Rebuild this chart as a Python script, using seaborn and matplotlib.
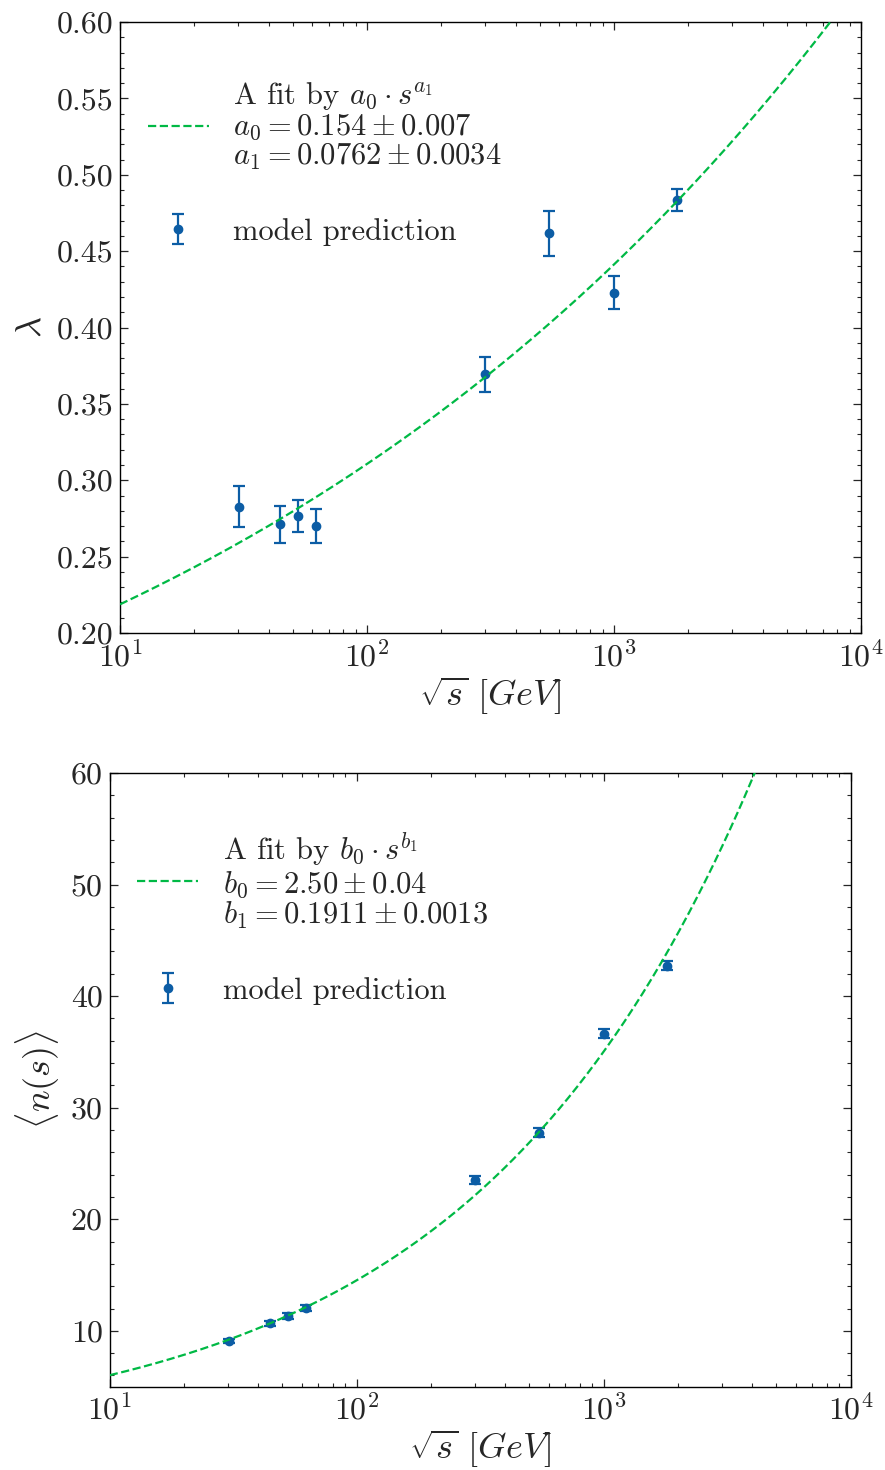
import numpy as np
import pandas as pd
import matplotlib
matplotlib.use("Agg")
import matplotlib.pyplot as plt
from matplotlib.ticker import FixedLocator, AutoMinorLocator, FormatStrFormatter, LogLocator, LogFormatterMathtext, NullFormatter
import seaborn as sns

# Collision energies (GeV)
sqrt_s = [30.4, 44.5, 52.6, 62.2, 300.0, 546.0, 1000.0, 1800.0]

# lambda parameter from the model
lam = [0.2827, 0.2712, 0.2766, 0.2700, 0.3694, 0.4617, 0.4228, 0.4835]
lam_err = [0.0134, 0.0120, 0.0104, 0.0110, 0.0113, 0.0149, 0.0110, 0.0072]

# mean multiplicity from the model
mult = [9.10, 10.66, 11.32, 12.04, 23.52, 27.76, 36.61, 42.73]
mult_err = [0.20, 0.20, 0.25, 0.25, 0.35, 0.40, 0.40, 0.40]

# power-law fit parameters
a0, a0_err, a1, a1_err = 0.154, 0.007, 0.0762, 0.0034
b0, b0_err, b1, b1_err = 2.50, 0.04, 0.1911, 0.0013

BLUE = "#0C5DA5"
GREEN = "#00B945"

sns.set_theme(style="ticks")
plt.rcParams.update({
    "font.family": ["cmr10", "DejaVu Serif"],
    "mathtext.fontset": "cm",
    "axes.formatter.use_mathtext": True,
    "axes.unicode_minus": False,
    "axes.linewidth": 1.0,
    "axes.edgecolor": "black",
    "xtick.direction": "in",
    "ytick.direction": "in",
    "xtick.top": True,
    "ytick.right": True,
    "xtick.major.size": 6,
    "ytick.major.size": 6,
    "xtick.minor.size": 3,
    "ytick.minor.size": 3,
    "xtick.major.width": 0.9,
    "ytick.major.width": 0.9,
    "xtick.minor.width": 0.8,
    "ytick.minor.width": 0.8,
    "xtick.minor.visible": True,
    "ytick.minor.visible": True,
    "xtick.labelsize": 23,
    "ytick.labelsize": 23,
    "xtick.major.pad": 5,
    "ytick.major.pad": 5,
    "axes.labelsize": 26,
})

fig = plt.figure(figsize=(8.85, 14.7), dpi=100)
ax1 = fig.add_axes([0.1356, 0.5694, 0.8373, 0.4156])
ax2 = fig.add_axes([0.1240, 0.0567, 0.8373, 0.4175])

xs = np.logspace(1, 4, 400)
fit_top = pd.DataFrame({"x": xs, "y": a0 * (xs ** 2) ** a1})
fit_bot = pd.DataFrame({"x": xs, "y": b0 * (xs ** 2) ** b1})

top_label = ("A fit by $a_0 \\cdot s^{a_1}$\n"
             f"$a_0 = {a0:.3f} \\pm {a0_err:.3f}$\n"
             f"$a_1 = {a1:.4f} \\pm {a1_err:.4f}$")
bot_label = ("A fit by $b_0 \\cdot s^{b_1}$\n"
             f"$b_0 = {b0:.2f} \\pm {b0_err:.2f}$\n"
             f"$b_1 = {b1:.4f} \\pm {b1_err:.4f}$")


def draw(ax, fit, label, y, yerr):
    sns.lineplot(data=fit, x="x", y="y", ax=ax, color=GREEN, lw=1.6,
                 linestyle="--", label=label, zorder=3)
    ax.errorbar(sqrt_s, y, yerr=yerr, fmt="o", color=BLUE, ms=6,
                elinewidth=1.6, capsize=4, capthick=1.6,
                label="model prediction", zorder=2)
    ax.set_xscale("log")
    ax.set_xlim(10, 1e4)
    ax.xaxis.set_major_locator(LogLocator(base=10, numticks=10))
    ax.xaxis.set_major_formatter(LogFormatterMathtext())
    ax.xaxis.set_minor_locator(LogLocator(base=10, subs=np.arange(2, 10), numticks=20))
    ax.xaxis.set_minor_formatter(NullFormatter())
    ax.set_xlabel(r"$\sqrt{s}\ [GeV]$", labelpad=2)
    leg = ax.legend(loc="upper left", bbox_to_anchor=(0.0, 0.95), frameon=False,
                    fontsize=22, handlelength=2.0, handletextpad=0.8,
                    labelspacing=1.5, borderaxespad=0.5)
    for t in leg.get_texts():
        t.set_linespacing(1.0)


draw(ax1, fit_top, top_label, lam, lam_err)
ax1.set_ylim(0.20, 0.60)
ax1.yaxis.set_major_locator(FixedLocator(np.arange(0.20, 0.601, 0.05)))
ax1.yaxis.set_major_formatter(FormatStrFormatter("%.2f"))
ax1.yaxis.set_minor_locator(AutoMinorLocator(5))
ax1.set_ylabel(r"$\lambda$", labelpad=6)

draw(ax2, fit_bot, bot_label, mult, mult_err)
ax2.set_ylim(5, 60)
ax2.yaxis.set_major_locator(FixedLocator(np.arange(10, 61, 10)))
ax2.yaxis.set_major_formatter(FormatStrFormatter("%d"))
ax2.yaxis.set_minor_locator(AutoMinorLocator(5))
ax2.set_ylabel(r"$\langle n(s) \rangle$", labelpad=6)

fig.savefig("out.png", dpi=100)
